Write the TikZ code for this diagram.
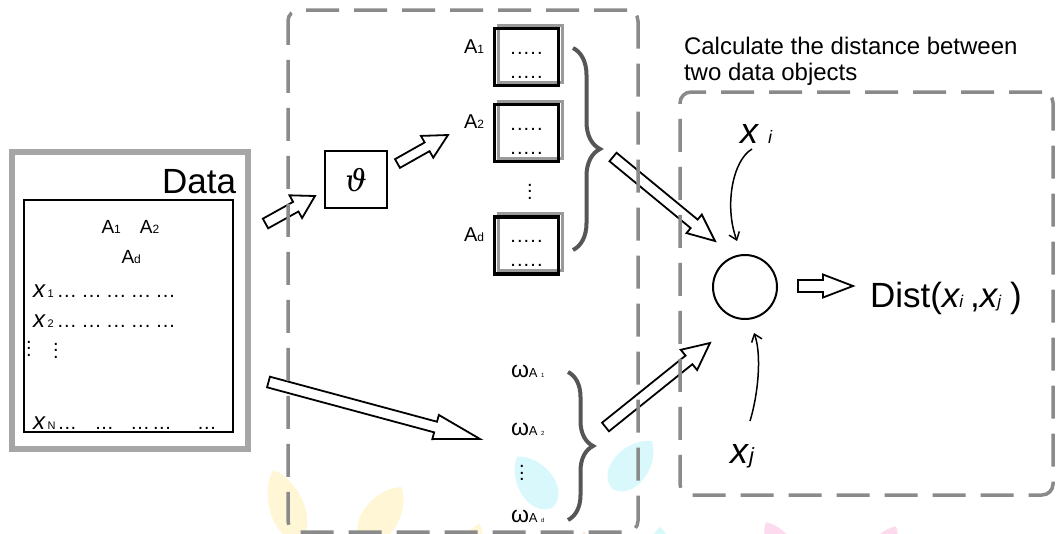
\documentclass[tikz,border=0pt]{standalone}
\usepackage{fontspec}
\setmainfont{Liberation Sans}
\newfontfamily\thetafont{DejaVu Serif}
\usetikzlibrary{decorations.pathreplacing,arrows.meta,backgrounds}
\definecolor{datagray}{HTML}{A6A6A6}
\definecolor{dashgray}{HTML}{8A8A8A}
\definecolor{bracegray}{HTML}{565656}
\definecolor{shadowgray}{HTML}{9A9A9A}
\definecolor{leafyellow}{HTML}{FFF6D6}
\definecolor{leafcyan}{HTML}{D8F8FB}
\definecolor{leafpink}{HTML}{FDDAEE}
\definecolor{leaforange}{HTML}{FDE8D2}
\newdimen\baXa \newdimen\baYa \newdimen\baXb \newdimen\baYb
% hollow block arrow: #1 shaft width, #2 head width, #3 head length, #4 from, #5 to
\newcommand\blockarrow[5]{%
  \pgfextractx{\baXa}{\pgfpointanchor{#4}{center}}%
  \pgfextracty{\baYa}{\pgfpointanchor{#4}{center}}%
  \pgfextractx{\baXb}{\pgfpointanchor{#5}{center}}%
  \pgfextracty{\baYb}{\pgfpointanchor{#5}{center}}%
  \pgfmathsetmacro\baAng{atan2(\baYb-\baYa,\baXb-\baXa)}%
  \pgfmathsetmacro\baLen{veclen(\baXb-\baXa,\baYb-\baYa)}%
  \pgfmathsetmacro\baB{\baLen-#3}%
  \pgfmathsetmacro\baw{#1/2}%
  \pgfmathsetmacro\baH{#2/2}%
  \draw[hollowarrow, shift={(\the\baXa,\the\baYa)}, rotate=\baAng]
    (0pt,-\baw pt) -- (\baB pt,-\baw pt) -- (\baB pt,-\baH pt) -- (\baLen pt,0pt)
    -- (\baB pt,\baH pt) -- (\baB pt,\baw pt) -- (0pt,\baw pt) -- cycle;
}
% faint leaf: cx, cy, half width, half height, rotation, colour
\newcommand\leaf[6]{%
  \fill[#6, shift={(#1pt,-#2pt)}, rotate=#5, xscale=#3, yscale=#4]
    (0pt,1pt) .. controls (0.8pt,0.55pt) and (0.9pt,-0.85pt) .. (0pt,-1pt)
    .. controls (-0.9pt,-0.85pt) and (-0.8pt,0.55pt) .. (0pt,1pt) -- cycle;
}
\newcommand\dg{.\kern1pt.\kern1pt.}
\newcommand\dgs{.\kern0.6pt.\kern0.6pt.}
\newcommand\dfive{.\kern1.1pt.\kern1.1pt.\kern1.1pt.\kern1.1pt.}
\newcommand\vd[1]{\vbox{\baselineskip=#1\hbox{.}\hbox{.}\hbox{.}}}
\newcommand\rowx[1]{{\fontsize{24}{24}\selectfont\itshape x}\hspace{2.5pt}{\fontsize{11}{11}\selectfont #1}}
\newcommand\wlab[1]{{\fontsize{23}{23}\selectfont ω}{\fontsize{13}{13}\selectfont A}\hspace{3.5pt}{\fontsize{6}{6}\selectfont #1}}
\newcommand\Asub[1]{A{\fontsize{12}{12}\selectfont #1}}

\begin{document}
\begin{tikzpicture}[x=1pt,y=-1pt,
  txt/.style={inner sep=0pt, outer sep=0pt},
  hollowarrow/.style={draw=black, fill=white, line width=1.8pt, line join=miter},
  dashbox/.style={draw=dashgray, line width=3.5pt, dash pattern=on 33pt off 15pt,
                  rounded corners=11pt, inner sep=0pt, outer sep=0pt},
  abox/.style={draw=black, line width=3.5pt, minimum width=64pt, minimum height=57pt,
               inner sep=0pt, outer sep=0pt},
  boxshadow/.style={draw=shadowgray, line width=3pt},
  bracestyle/.style={draw=bracegray, line width=4pt, decorate, decoration={brace, amplitude=#1}},
  curvearrow/.style={line width=1.5pt, -{Straight Barb[length=7pt, width=11pt]}},
]
\useasboundingbox (0,0) rectangle (1056,533);
\clip (0,0) rectangle (1056,533);

% faint background leaves
\leaf{286}{505}{27}{37}{20}{leafyellow}
\leaf{382}{515}{28}{34}{-35}{leafyellow}
\leaf{470}{550}{18}{28}{-20}{leafyellow}
\leaf{584}{546}{6}{15}{0}{leaforange}
\leaf{535}{482}{28}{31}{35}{leafcyan}
\leaf{632}{465}{28}{31}{-40}{leafcyan}
\leaf{660}{552}{18}{25}{0}{leafcyan}
\leaf{782}{550}{22}{32}{30}{leafpink}
\leaf{880}{554}{22}{32}{-30}{leafpink}

% Data box
\node[draw=datagray, line width=6pt, minimum width=235.4pt, minimum height=297.5pt, inner sep=0pt] (databox) at (130,300.25) {};
\node[draw=black, line width=2pt, minimum width=209pt, minimum height=232.3pt, inner sep=0pt] (datatable) at (128.8,316.2) {};
\node[txt, anchor=base east, font=\fontsize{35}{35}\selectfont] (datatitle) at (236,193) {Data};
\node[txt, anchor=base west, font=\fontsize{19}{19}\selectfont] (hdrA) at (101.5,233) {\Asub{1}\hspace{19pt}\Asub{2}};
\node[txt, anchor=base west, font=\fontsize{19}{19}\selectfont] (hdrAd) at (121.5,263) {\Asub{d}};
\node[txt, anchor=base west, font=\fontsize{20}{20}\selectfont] (row1) at (33,297) {\rowx{1}\hspace{4pt}\dg\hspace{6pt}\dg\hspace{6pt}\dg\hspace{6pt}\dg\hspace{6pt}\dg};
\node[txt, anchor=base west, font=\fontsize{20}{20}\selectfont] (row2) at (33,327) {\rowx{2}\hspace{4pt}\dg\hspace{6pt}\dg\hspace{6pt}\dg\hspace{6pt}\dg\hspace{6pt}\dg};
\node[txt, font=\fontsize{20}{20}\selectfont] (rowvd1) at (29,348.5) {\vd{6.5pt}};
\node[txt, font=\fontsize{20}{20}\selectfont] (rowvd2) at (56,350.5) {\vd{6.5pt}};
\node[txt, anchor=base west, font=\fontsize{20}{20}\selectfont] (rowN) at (33,429) {{\fontsize{24}{24}\selectfont\itshape x}\hspace{2.5pt}{\fontsize{11}{11}\selectfont N}\hspace{3pt}\dgs\hspace{19pt}\dgs\hspace{18pt}\dgs\hspace{4pt}\dgs\hspace{27pt}\dgs};

% theta box
\node[draw=black, line width=2.5pt, minimum width=62pt, minimum height=57pt, inner sep=0pt, font=\fontsize{30}{30}\thetafont\itshape] (theta) at (356,179.7) {ϑ};

% attribute boxes
\node[abox] (box1) at (526.5,57) {};
\node[abox] (box2) at (526.5,133) {};
\node[abox] (box3) at (526.5,245.5) {};
\begin{scope}[on background layer]
  \foreach \b in {box1,box2,box3}{
    \draw[boxshadow] ([shift={(3.5,-3.5)}]\b.south west) rectangle ([shift={(3.5,-3.5)}]\b.north east);
  }
\end{scope}
\node[txt, anchor=base, font=\fontsize{20}{20}\selectfont] (box1r1) at (526.5,54) {\dfive};
\node[txt, anchor=base, font=\fontsize{20}{20}\selectfont] (box1r2) at (526.5,78) {\dfive};
\node[txt, anchor=base, font=\fontsize{20}{20}\selectfont] (box2r1) at (526.5,130) {\dfive};
\node[txt, anchor=base, font=\fontsize{20}{20}\selectfont] (box2r2) at (526.5,154) {\dfive};
\node[txt, anchor=base, font=\fontsize{20}{20}\selectfont] (box3r1) at (526.5,242.5) {\dfive};
\node[txt, anchor=base, font=\fontsize{20}{20}\selectfont] (box3r2) at (526.5,266.5) {\dfive};
\node[txt, font=\fontsize{20}{20}\selectfont] (boxvd) at (530,191.5) {\vd{6.5pt}};
\node[txt, anchor=base west, font=\fontsize{20}{20}\selectfont] (lblA1) at (464,53) {\Asub{1}};
\node[txt, anchor=base west, font=\fontsize{20}{20}\selectfont] (lblA2) at (464,128) {\Asub{2}};
\node[txt, anchor=base west, font=\fontsize{20}{20}\selectfont] (lblAd) at (464,241) {\Asub{d}};

% weights
\node[txt, anchor=base west] (w1) at (511,377) {\wlab{1}};
\node[txt, anchor=base west] (w2) at (511,435) {\wlab{2}};
\node[txt, font=\fontsize{20}{20}\selectfont] (wvd) at (522,473) {\vd{6.2pt}};
\node[txt, anchor=base west] (wd) at (511,522) {\wlab{d}};

% braces
\coordinate (brA1) at (573,48);
\coordinate (brA2) at (573,250);
\draw[bracestyle=27pt] (brA1) -- (brA2);
\coordinate (brW1) at (568,372);
\coordinate (brW2) at (568,520);
\draw[bracestyle=25pt] (brW1) -- (brW2);

% distance part
\node[circle, draw=black, line width=2pt, minimum size=64pt, inner sep=0pt] (distc) at (745,287) {};
\node[txt, anchor=base west] (xi) at (740,143) {{\fontsize{36}{36}\selectfont\itshape x}\hspace{10pt}{\fontsize{18}{18}\selectfont\itshape i}};
\node[txt, anchor=base west] (xj) at (730,463) {{\fontsize{36}{36}\selectfont\itshape x}\hspace{1pt}{\fontsize{22}{22}\selectfont\itshape j}};
\node[txt, anchor=base west, font=\fontsize{35}{35}\selectfont] (distlbl) at (870,307)
  {Dist({\itshape x}{\fontsize{17}{17}\selectfont\itshape i}\hspace{7pt},{\itshape x}{\fontsize{17}{17}\selectfont\itshape j}\hspace{9pt})};
\node[txt, anchor=base west, font=\fontsize{24}{26}\selectfont] (calc) at (684,54)
  {\begin{tabular}[t]{@{}l@{}}Calculate the distance between\\two data objects\end{tabular}};

\coordinate (xiS) at (752,149);
\coordinate (xiE) at (737,241);
\draw[curvearrow] (xiS) .. controls (733,160) and (724,205) .. (xiE);
\coordinate (xjS) at (750,421);
\coordinate (xjE) at (754,333);
\draw[curvearrow] (xjS) .. controls (758,395) and (762,355) .. (xjE);

% block arrows
\coordinate (a1s) at (265.5,223.5);
\coordinate (a1e) at (315,196);
\coordinate (a2s) at (397.5,163.5);
\coordinate (a2e) at (448,135);
\coordinate (a3s) at (613,157);
\coordinate (a3e) at (715,241);
\coordinate (a4s) at (268.5,382);
\coordinate (a4e) at (480,439);
\coordinate (a5s) at (605.5,427);
\coordinate (a5e) at (710,343);
\coordinate (a6s) at (798,286);
\coordinate (a6e) at (853,286);
\blockarrow{11}{26}{22}{a1s}{a1e}
\blockarrow{10}{25}{24}{a2s}{a2e}
\blockarrow{11}{24}{27}{a3s}{a3e}
\blockarrow{11}{25}{46}{a4s}{a4e}
\blockarrow{11}{26}{27}{a5s}{a5e}
\blockarrow{12}{23}{30}{a6s}{a6e}

% dashed groups (drawn over the arrows)
\node[dashbox, minimum width=350pt, minimum height=522pt] (midgroup) at (463,271) {};
\node[dashbox, minimum width=373pt, minimum height=403pt] (distgroup) at (866.5,293.5) {};
\end{tikzpicture}
\end{document}
